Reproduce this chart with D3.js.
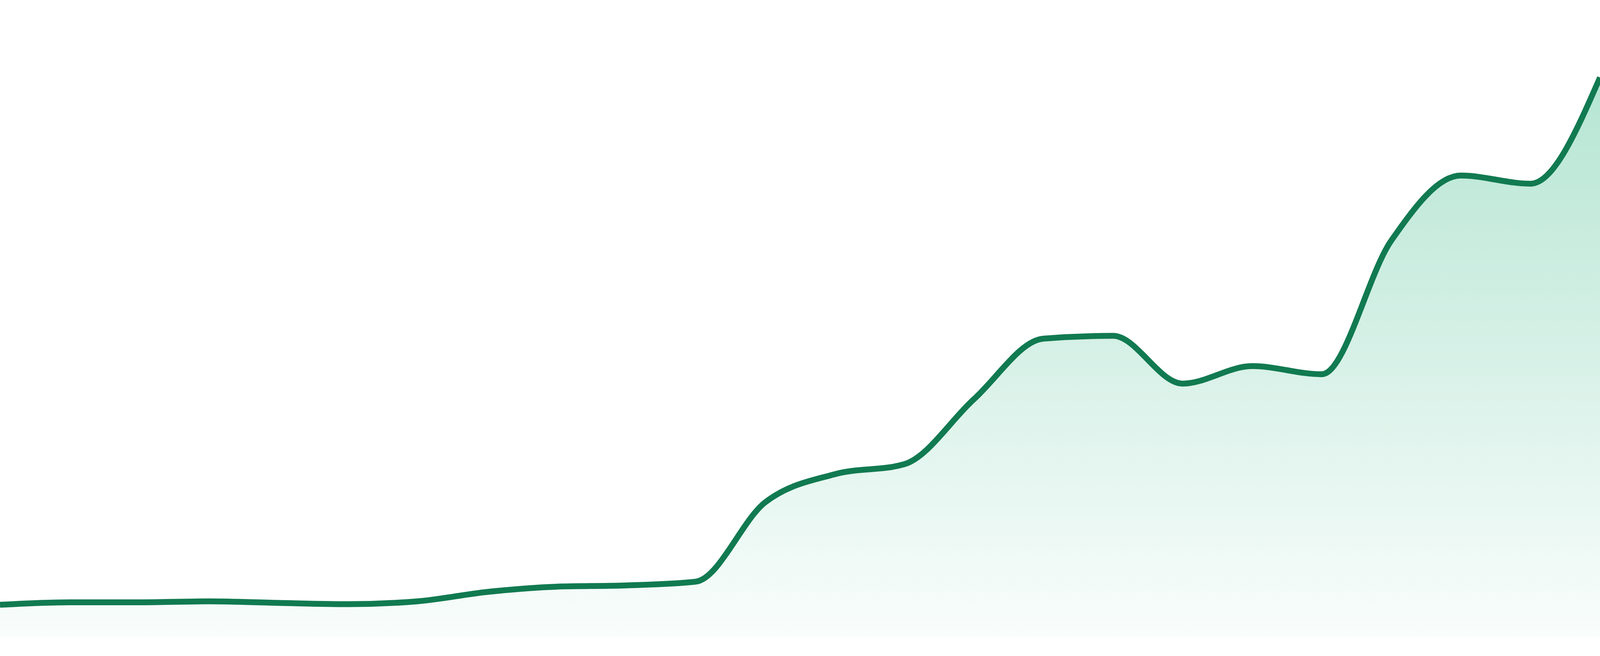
<!DOCTYPE html>
<html>
<head>
<meta charset="utf-8">
<script src="https://cdn.jsdelivr.net/npm/d3@7"></script>
<style>
  html, body { margin: 0; padding: 0; background: #ffffff; overflow: hidden; }
  svg { display: block; }
</style>
</head>
<body>
<script>
// periods along the x axis (no labels are shown in the chart)
const periods = ["P01", "P02", "P03", "P04", "P05", "P06", "P07", "P08",
                 "P09", "P10", "P11", "P12", "P13", "P14", "P15", "P16",
                 "P17", "P18", "P19", "P20", "P21", "P22", "P23", "P24"];

// values
const values = [5.2, 5.6, 5.6, 5.75, 5.5, 5.3, 5.75, 7.25,
                8.1, 8.3, 8.9, 21.6, 26.1, 27.7, 38.1, 47.8,
                48.25, 40.6, 43.4, 42.1, 63.5, 73.9, 72.6, 89.6];

// fill the whole window (it may be narrower than asked)
const width = window.innerWidth || 4800;
const height = window.innerHeight || 1680;
const baseY = height * 1632 / 1680;
const topY = height * 32 / 1680;

const data = periods.map((p, i) => ({ p: p, v: values[i] }));

const svg = d3.select("body").append("svg")
    .attr("width", width)
    .attr("height", height);

const x = d3.scalePoint()
    .domain(periods)
    .range([0, width]);

const y = d3.scaleLinear()
    .domain([0, 100])
    .range([baseY, topY]);

const defs = svg.append("defs");
const grad = defs.append("linearGradient")
    .attr("id", "fillGrad")
    .attr("gradientUnits", "userSpaceOnUse")
    .attr("x1", 0).attr("x2", 0)
    .attr("y1", y(d3.max(values)))
    .attr("y2", baseY);
grad.append("stop").attr("offset", "0%")
    .attr("stop-color", "#18ae76").attr("stop-opacity", 0.32);
grad.append("stop").attr("offset", "100%")
    .attr("stop-color", "#18ae76").attr("stop-opacity", 0.025);

const area = d3.area()
    .x(d => x(d.p))
    .y0(baseY)
    .y1(d => y(d.v))
    .curve(d3.curveMonotoneX);

const line = d3.line()
    .x(d => x(d.p))
    .y(d => y(d.v))
    .curve(d3.curveMonotoneX);

svg.append("path")
    .datum(data)
    .attr("d", area)
    .attr("fill", "url(#fillGrad)");

svg.append("path")
    .datum(data)
    .attr("d", line)
    .attr("fill", "none")
    .attr("stroke", "#117a51")
    .attr("stroke-width", 15)
    .attr("stroke-linejoin", "round");
</script>
</body>
</html>
